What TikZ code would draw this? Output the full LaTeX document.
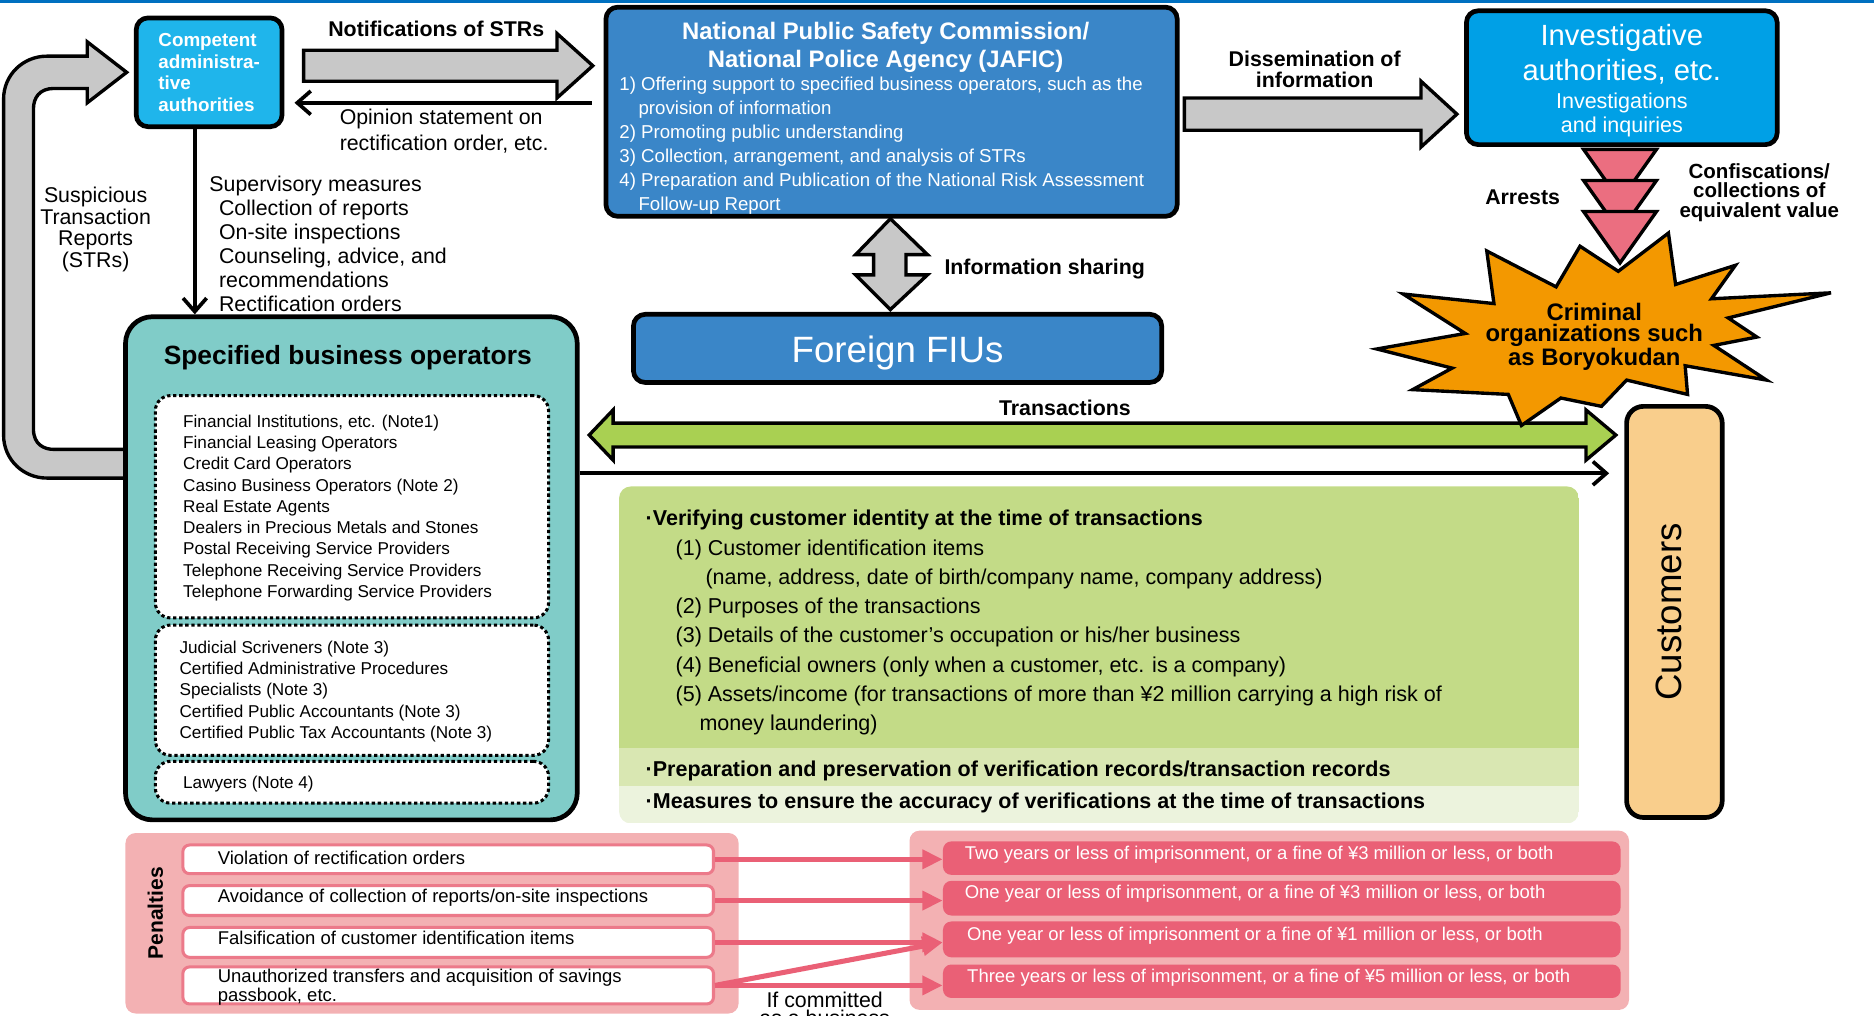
\documentclass[tikz,border=0pt]{standalone}
\usepackage{fontspec}
\setmainfont{Liberation Sans}
\usetikzlibrary{arrows.meta}
\newdimen\pu \pu=0.025cm
\definecolor{stripblue}{HTML}{0070C0}
\definecolor{compcyan}{HTML}{1FB5EB}
\definecolor{jaficblue}{HTML}{3A86C8}
\definecolor{invblue}{HTML}{00A0E6}
\definecolor{arrowgray}{HTML}{C8C8C8}
\definecolor{opteal}{HTML}{80CCC8}
\definecolor{trgreen}{HTML}{A9D052}
\definecolor{boxgreenA}{HTML}{C3DB87}
\definecolor{boxgreenB}{HTML}{D9E7B2}
\definecolor{boxgreenC}{HTML}{ECF3DD}
\definecolor{custorange}{HTML}{F9CE8C}
\definecolor{starorange}{HTML}{F39800}
\definecolor{arrestpink}{HTML}{EB6E80}
\definecolor{penpanel}{HTML}{F3B1B3}
\definecolor{penred}{HTML}{EA6076}
\definecolor{penline}{HTML}{EC7A8A}

\begin{document}
\begin{tikzpicture}[x=0.025cm, y=-0.025cm,
  sz/.style 2 args={minimum width=#1*\pu, minimum height=#2*\pu},
  bigbox/.style={draw=black, line width=2.8pt, rounded corners=7pt, inner sep=0pt},
  blockarrow/.style={draw=black, fill=arrowgray, line width=2pt, line join=miter},
  txt/.style={inner sep=0pt, font=\fontsize{12.7}{14.2}\selectfont},
  btxt/.style={inner sep=0pt, font=\bfseries\fontsize{12.7}{14.2}\selectfont},
  thinarrow/.style={line width=2.2pt, -{Straight Barb[length=8pt, width=14pt]}},
  dotbox/.style={draw=black, fill=white, line width=1.8pt, dash pattern=on 2pt off 1.6pt, rounded corners=9pt, inner sep=0pt},
  penbox/.style={draw=penline, fill=white, line width=1.8pt, rounded corners=4pt, inner sep=0pt},
  redbox/.style={fill=penred, rounded corners=5pt, inner sep=0pt},
  pentxt/.style={inner sep=0pt, anchor=west, font=\fontsize{11}{8.5}\selectfont},
  penarrow/.style={draw=penred, line width=3pt, -{Triangle[length=12pt, width=11pt]}}
]
\clip (0,0) rectangle (1568,850);
\useasboundingbox (0,0) rectangle (1568,850);
\fill[stripblue] (0,0) rectangle (1568,2.5);

\draw[blockarrow] (105,376) -- (45,376) .. controls (37,376) and (28,372) .. (28,359) -- (28,91) .. controls (28,82) and (33,74) .. (45,74) -- (73,74) -- (73,86) -- (106,60.5) -- (73,35) -- (73,47) -- (39,47) .. controls (20,47) and (3,62) .. (3,83) -- (3,364) .. controls (3,385) and (20,400) .. (39,400) -- (105,400) -- cycle;

\node[bigbox, fill=compcyan, text=white, sz={122}{91}, align=left, font=\bfseries\fontsize{11.2}{12.8}\selectfont] (comp) at (175,60.5) {Competent\\administra-\\tive\\authorities};

\node[bigbox, fill=jaficblue, sz={478}{175}] (jafic) at (746,93.5) {};
\node[btxt, text=white, align=center, font=\bfseries\fontsize{14.2}{16.4}\selectfont] (jafictitle) at (741,39.5) {National Public Safety Commission/\\National Police Agency (JAFIC)};
\node[txt, anchor=west, text=white, align=left, font=\fontsize{11.1}{14.2}\selectfont] (jaficlist) at (518,122) {1) Offering support to specified business operators, such as the\\\hspace*{11.4pt}provision of information\\2) Promoting public understanding\\3) Collection, arrangement, and analysis of STRs\\4) Preparation and Publication of the National Risk Assessment\\\hspace*{11.4pt}Follow-up Report};

\node[bigbox, fill=jaficblue, sz={442}{57}] (fius) at (751,291.5) {};
\node[txt, text=white, font=\fontsize{21.8}{24}\selectfont] (fiustxt) at (751,295) {Foreign FIUs};

\node[bigbox, fill=invblue, sz={260}{112}] (inv) at (1357,65) {};
\node[txt, text=white, align=center, font=\fontsize{17.4}{20.6}\selectfont] (invtitle) at (1357,45.5) {Investigative\\authorities, etc.};
\node[txt, text=white, align=center, font=\fontsize{12.8}{14.2}\selectfont] (invsub) at (1357,96) {Investigations\\and inquiries};

\draw[blockarrow] (254,42) -- (466,42) -- (466,28) -- (496,55) -- (466,82) -- (466,68) -- (254,68) -- cycle;
\draw[blockarrow] (991,82) -- (1189,82) -- (1189,68) -- (1219,95.5) -- (1189,123) -- (1189,109) -- (991,109) -- cycle;
\draw[blockarrow] (745,183) -- (776,213) -- (758,213) -- (758,230) -- (776,230) -- (745,259) -- (716,230) -- (731,230) -- (731,213) -- (716,213) -- cycle;

\node[btxt] (notify) at (365,24) {Notifications of STRs};
\node[txt, anchor=west, align=left, font=\fontsize{12.7}{15.6}\selectfont] (opinion) at (284,110) {Opinion statement on\\rectification order, etc.};
\node[btxt, align=center, font=\bfseries\fontsize{12.7}{12.8}\selectfont] (dissem) at (1100,58) {Dissemination of\\information};
\node[btxt, anchor=west] (share) at (790,225) {Information sharing};
\node[txt, align=center, font=\fontsize{12.7}{12.8}\selectfont] (strs) at (80,192) {Suspicious\\Transaction\\Reports\\(STRs)};
\node[txt, anchor=west, align=left] (supervise) at (175,204) {Supervisory measures\\\hspace*{5.7pt}Collection of reports\\\hspace*{5.7pt}On-site inspections\\\hspace*{5.7pt}Counseling, advice, and\\\hspace*{5.7pt}recommendations\\\hspace*{5.7pt}Rectification orders};

\node[bigbox, fill=opteal, rounded corners=16pt, sz={378}{421}] (spec) at (294,475.5) {};
\node[btxt, font=\bfseries\fontsize{15.7}{18}\selectfont] (spectitle) at (291,299) {Specified business operators};
\node[dotbox, sz={329}{186}] (grpA) at (294.5,424) {};
\node[dotbox, sz={329}{109}] (grpB) at (294.5,577.5) {};
\node[dotbox, sz={329}{35}] (grpC) at (294.5,654.5) {};
\node[txt, anchor=west, align=left, font=\fontsize{10.2}{12.66}\selectfont] (grpAtxt) at (153,425) {Financial Institutions, etc. (Note1)\\Financial Leasing Operators\\Credit Card Operators\\Casino Business Operators (Note 2)\\Real Estate Agents\\Dealers in Precious Metals and Stones\\Postal Receiving Service Providers\\Telephone Receiving Service Providers\\Telephone Forwarding Service Providers};
\node[txt, anchor=west, align=left, font=\fontsize{10.2}{12.66}\selectfont] (grpBtxt) at (150,578.5) {Judicial Scriveners (Note 3)\\Certified Administrative Procedures\\Specialists (Note 3)\\Certified Public Accountants (Note 3)\\Certified Public Tax Accountants (Note 3)};
\node[txt, anchor=west, font=\fontsize{10.2}{12.66}\selectfont] (grpCtxt) at (153,656) {Lawyers (Note 4)};

\draw[thinarrow, shorten <=7pt, shorten >=6pt] (jafic.west |- 0,86) -- (comp.east |- 0,86);
\draw[thinarrow] (163,0 |- comp.south) -- (163,0 |- spec.north);

\node[bigbox, fill=custorange, rounded corners=10pt, sz={80}{344}] (cust) at (1401,512) {};
\node[txt, rotate=90, font=\fontsize{21.8}{24}\selectfont] (custtxt) at (1396,512) {Customers};

\draw[blockarrow, fill=trgreen] (493,364) -- (513,343) -- (513,354) -- (1327,354) -- (1327,343) -- (1352,364) -- (1327,385) -- (1327,374) -- (513,374) -- (513,385) -- cycle;
\node[btxt] (trans) at (891,341) {Transactions};
\draw[thinarrow, shorten >=9pt] (spec.east |- 0,396) -- (cust.west |- 0,396);

\draw[draw=black, line width=2pt, fill=starorange, line join=miter] (1354,227) -- (1396,195) -- (1402,238) -- (1452,222) -- (1432,250) -- (1532,245) -- (1446,266) -- (1470,282) -- (1434,289) -- (1478,318) -- (1410,306) -- (1412,330) -- (1361,318) -- (1340,340) -- (1306,333) -- (1273,356) -- (1262,330) -- (1182,326) -- (1215,308) -- (1152,292) -- (1226,279) -- (1174,246) -- (1250,254) -- (1244,210) -- (1302,240) -- (1322,206) -- cycle;
\node[btxt, align=center, font=\bfseries\fontsize{14.2}{12.8}\selectfont] (crime) at (1334,282) {Criminal\\organizations such\\as Boryokudan};
\foreach \t in {125,151,177}
  \draw[fill=arrestpink, line width=2pt, line join=miter] (1325,\t) -- (1386,\t) -- (1355.5,\t+43) -- cycle;
\node[btxt] (arrests) at (1274,165) {Arrests};
\node[btxt, align=center, font=\bfseries\fontsize{12.2}{11.7}\selectfont] (confisc) at (1472,161) {Confiscations/\\collections of\\equivalent value};

\begin{scope}
\clip[rounded corners=7pt] (518,407) rectangle (1321,689);
\fill[boxgreenA] (518,407) rectangle (1321,626);
\fill[boxgreenB] (518,626) rectangle (1321,658);
\fill[boxgreenC] (518,658) rectangle (1321,689);
\end{scope}
\node[txt, anchor=west, align=left, font=\fontsize{12.8}{17.4}\selectfont] (verify) at (540,521) {\textbf{·Verifying customer identity at the time of transactions}\\\hspace*{17.8pt}(1) Customer identification items\\\hspace*{35.6pt}(name, address, date of birth/company name, company address)\\\hspace*{17.8pt}(2) Purposes of the transactions\\\hspace*{17.8pt}(3) Details of the customer’s occupation or his/her business\\\hspace*{17.8pt}(4) Beneficial owners (only when a customer, etc. is a company)\\\hspace*{17.8pt}(5) Assets/income (for transactions of more than ¥2 million carrying a high risk of\\\hspace*{32pt}money laundering)};
\node[btxt, anchor=west, font=\bfseries\fontsize{12.8}{15}\selectfont] (records) at (540,645) {·Preparation and preservation of verification records/transaction records};
\node[btxt, anchor=west, font=\bfseries\fontsize{12.8}{15}\selectfont] (accuracy) at (540,672) {·Measures to ensure the accuracy of verifications at the time of transactions};

\node[fill=penpanel, rounded corners=6pt, sz={513}{151}, inner sep=0pt] (penleft) at (361.5,772.5) {};
\node[fill=penpanel, rounded corners=6pt, sz={602}{150}, inner sep=0pt] (penright) at (1062,770) {};
\node[btxt, rotate=90, font=\bfseries\fontsize{12.5}{14}\selectfont] (penalties) at (130,764) {Penalties};
\node[penbox, sz={444}{24}] (w1) at (375,719) {};
\node[penbox, sz={444}{25}] (w2) at (375,753.5) {};
\node[penbox, sz={444}{25}] (w3) at (375,788.5) {};
\node[penbox, sz={444}{31}] (w4) at (375,824.5) {};
\node[pentxt] (w1txt) at (182,718) {Violation of rectification orders};
\node[pentxt] (w2txt) at (182,751) {Avoidance of collection of reports/on-site inspections};
\node[pentxt] (w3txt) at (182,785) {Falsification of customer identification items};
\node[pentxt, align=left] (w4txt) at (182,826) {Unauthorized transfers and acquisition of savings\\passbook, etc.};
\node[redbox, sz={567}{28}] (r1) at (1072.5,718) {};
\node[redbox, sz={567}{29}] (r2) at (1072.5,751.5) {};
\node[redbox, sz={567}{30}] (r3) at (1072.5,786) {};
\node[redbox, sz={567}{28}] (r4) at (1072.5,821) {};
\node[pentxt, text=white] (r1txt) at (807,715) {Two years or less of imprisonment, or a fine of ¥3 million or less, or both};
\node[pentxt, text=white] (r2txt) at (807,748) {One year or less of imprisonment, or a fine of ¥3 million or less, or both};
\node[pentxt, text=white] (r3txt) at (809,783) {One year or less of imprisonment or a fine of ¥1 million or less, or both};
\node[pentxt, text=white] (r4txt) at (809,818) {Three years or less of imprisonment, or a fine of ¥5 million or less, or both};
\draw[penarrow] (w1.east) -- (w1.east -| r1.west);
\draw[penarrow] (w2.east) -- (w2.east -| r2.west);
\draw[penarrow] (w3.east) -- (w3.east -| r3.west);
\draw[penarrow] (w4.east) -- (w4.east -| r4.west);
\draw[penarrow] (w4.east) -- (w3.east -| r3.west);
\node[txt, anchor=north, align=center, font=\fontsize{12.7}{9}\selectfont] (business) at (690,830) {If committed\\as a business};
\end{tikzpicture}
\end{document}
